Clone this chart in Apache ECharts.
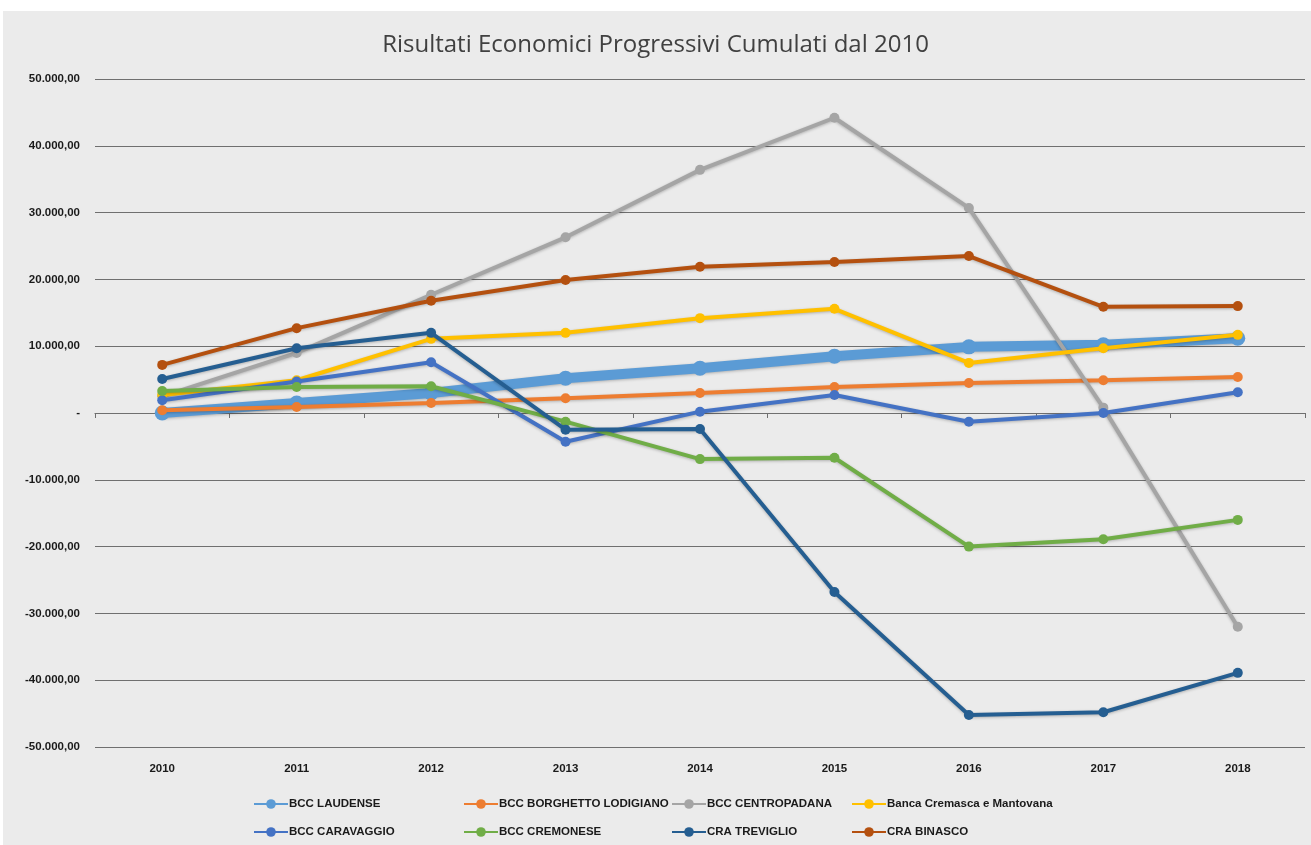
<!DOCTYPE html>
<html><head><meta charset="utf-8">
<script src="https://cdn.jsdelivr.net/npm/echarts@6/dist/echarts.min.js"></script>
<style>html,body{margin:0;padding:0;background:#fff}#c{width:1311px;height:845px}</style>
</head><body><div id="c"></div>
<script>
const years = ['2010','2011','2012','2013','2014','2015','2016','2017','2018'];
const yTicks = [-50000,-40000,-30000,-20000,-10000,0,10000,20000,30000,40000,50000];
const laudense   = [0, 1500, 3000, 5200, 6700, 8500, 9900, 10200, 11200];
const borghetto  = [400, 900, 1500, 2200, 3000, 3900, 4500, 4900, 5400];
const centropadana = [2500, 9000, 17700, 26300, 36400, 44200, 30700, 800, -32000];
const cremasca   = [2700, 4900, 11100, 12000, 14200, 15600, 7500, 9700, 11700];
const caravaggio = [1900, 4700, 7600, -4300, 200, 2700, -1300, 0, 3100];
const cremonese  = [3300, 3900, 4000, -1300, -6900, -6700, -20000, -18900, -16000];
const treviglio  = [5100, 9700, 12000, -2500, -2400, -26800, -45200, -44800, -38900];
const binasco    = [7200, 12700, 16800, 19900, 21900, 22600, 23500, 15900, 16000];

const seriesDefs = [
  ['BCC LAUDENSE', laudense, '#5B9BD5', 10, 15],
  ['BCC BORGHETTO LODIGIANO', borghetto, '#ED7D31', 4, 10],
  ['BCC CENTROPADANA', centropadana, '#A5A5A5', 4, 10],
  ['Banca Cremasca e Mantovana', cremasca, '#FFC000', 4, 10],
  ['BCC CARAVAGGIO', caravaggio, '#4472C4', 4, 10],
  ['BCC CREMONESE', cremonese, '#70AD47', 4, 10],
  ['CRA TREVIGLIO', treviglio, '#255E91', 4, 10],
  ['CRA BINASCO', binasco, '#B4500F', 4, 10]
];

function fmt(v){
  if (v === 0) return '-';
  const neg = v < 0; const a = Math.abs(v);
  const s = a.toString().replace(/\B(?=(\d{3})+(?!\d))/g, '.');
  return (neg ? '-' : '') + s + ',00';
}

const legendPos = [
  [248, 793], [458, 793], [666, 793], [846, 793],
  [248, 821], [458, 821], [666, 821], [846, 821]
];
const legends = seriesDefs.map((d, i) => ({
  data: [d[0]], left: legendPos[i][0], top: legendPos[i][1],
  itemWidth: 34, itemHeight: 12, itemGap: 0,
  textStyle: { fontFamily: 'Liberation Sans, Arial, sans-serif', fontWeight: 'bold', fontSize: 11.5, color: '#1a1a1a', padding: [0,0,0,-4] }
}));

const chart = echarts.init(document.getElementById('c'), null, {renderer: 'canvas'});
chart.setOption({
  backgroundColor: '#ffffff',
  animation: false,
  graphic: [{ type: 'rect', left: 3, top: 11, shape: { width: 1308, height: 834 }, style: { fill: '#ebebeb' }, z: -10 }],
  title: {
    text: 'Risultati Economici Progressivi Cumulati dal 2010',
    left: 'center', top: 28,
    textStyle: { fontFamily: 'Open Sans, sans-serif', fontWeight: 'normal', fontSize: 24, color: '#404040' }
  },
  legend: legends,
  grid: { left: 95, right: 6, top: 79, bottom: 98, containLabel: false },
  xAxis: [
    { type: 'category', data: years, boundaryGap: true, position: 'bottom',
      axisLine: { show: false, onZero: false }, axisTick: { show: false },
      axisLabel: { fontFamily: 'Liberation Sans, Arial, sans-serif', fontWeight: 'bold', fontSize: 11.5, color: '#1a1a1a', margin: 16 } },
    { type: 'category', data: years, boundaryGap: true, position: 'top',
      axisLine: { show: true, onZero: true, lineStyle: { color: '#6f6f6f', width: 1.2 } },
      axisTick: { show: true, length: 5, inside: true, lineStyle: { color: '#6f6f6f' } },
      axisLabel: { show: false } }
  ],
  yAxis: {
    type: 'value', min: -50000, max: 50000, interval: 10000,
    axisLine: { show: false }, axisTick: { show: false },
    splitLine: { lineStyle: { color: '#6f6f6f', width: 1.2 } },
    axisLabel: { formatter: fmt, fontFamily: 'Liberation Sans, Arial, sans-serif', fontWeight: 'bold', fontSize: 11.5, color: '#1a1a1a', margin: 15 }
  },
  series: seriesDefs.map((d, i) => ({
    name: d[0], type: 'line', data: d[1], xAxisIndex: 0,
    symbol: 'circle', symbolSize: d[4], z: 2 + i,
    lineStyle: { color: d[2], width: d[3], shadowColor: 'rgba(0,0,0,0.25)', shadowBlur: 3, shadowOffsetY: 1 },
    itemStyle: { color: d[2] },
    emphasis: { disabled: true }
  }))
});
</script></body></html>
